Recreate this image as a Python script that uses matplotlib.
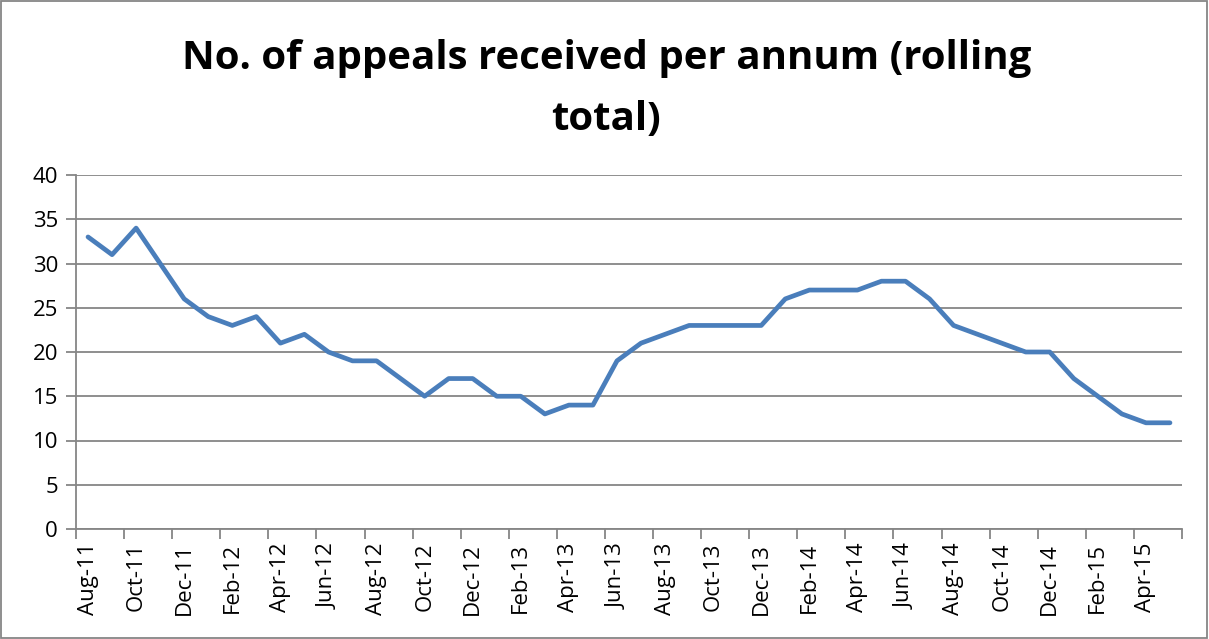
import matplotlib
matplotlib.use("Agg")
import matplotlib.pyplot as plt
from matplotlib.patches import Rectangle
import numpy as np

months = []
mnames = ["Jan", "Feb", "Mar", "Apr", "May", "Jun", "Jul", "Aug", "Sep", "Oct", "Nov", "Dec"]
for y in range(11, 16):
    for m in mnames:
        months.append(f"{m}-{y}")
categories = months[months.index("Aug-11"):months.index("May-15") + 1]

appeals = [33, 31, 34, 30, 26, 24, 23, 24, 21, 22, 20, 19, 19, 17, 15, 17, 17, 15, 15, 13,
           14, 14, 19, 21, 22, 23, 23, 23, 23, 26, 27, 27, 27, 28, 28, 26, 23, 22, 21, 20,
           20, 17, 15, 13, 12, 12]

title = "No. of appeals received per annum (rolling\ntotal)"

fig = plt.figure(figsize=(12.09, 6.39), dpi=100)
ax = fig.add_axes([76 / 1209, 1 - 529 / 639, (1182 - 76) / 1209, (529 - 175) / 639])

x = np.arange(len(categories))
ax.plot(x, appeals, color="#4a7ebb", lw=3.4, solid_joinstyle="round", solid_capstyle="round", zorder=3)

ax.set_xlim(-0.5, len(categories) - 0.5)
ax.set_ylim(0, 40)
ax.set_yticks(np.arange(0, 41, 5))
ax.yaxis.grid(True, color="#868686", lw=1.3)
ax.set_axisbelow(True)

tick_font = "Open Sans"
ax.set_xticks(x[::2])
ax.set_xticklabels(categories[::2], rotation=90, fontsize=16, family=tick_font)
ax.tick_params(axis="x", length=0, pad=10)
ax.set_xticks(np.arange(-0.5, len(categories), 2), minor=True)
ax.tick_params(axis="x", which="minor", length=7, color="#868686", width=1.3)
ax.tick_params(axis="y", length=7, color="#868686", width=1.3, labelsize=16, pad=6)
for lab in ax.get_yticklabels():
    lab.set_family(tick_font)

for s in ["top", "right"]:
    ax.spines[s].set_visible(False)
for s in ["left", "bottom"]:
    ax.spines[s].set_color("#868686")
    ax.spines[s].set_linewidth(1.3)

fig.text(0.5015, 1 - 39 / 639, title, ha="center", va="top", fontsize=29, fontweight="bold",
         family="Open Sans", linespacing=1.72)

fig.patches.append(Rectangle((0.001, 0.002), 0.997, 0.996, transform=fig.transFigure,
                             fill=False, edgecolor="#868686", lw=1.3))

fig.savefig("out.png", dpi=100)
